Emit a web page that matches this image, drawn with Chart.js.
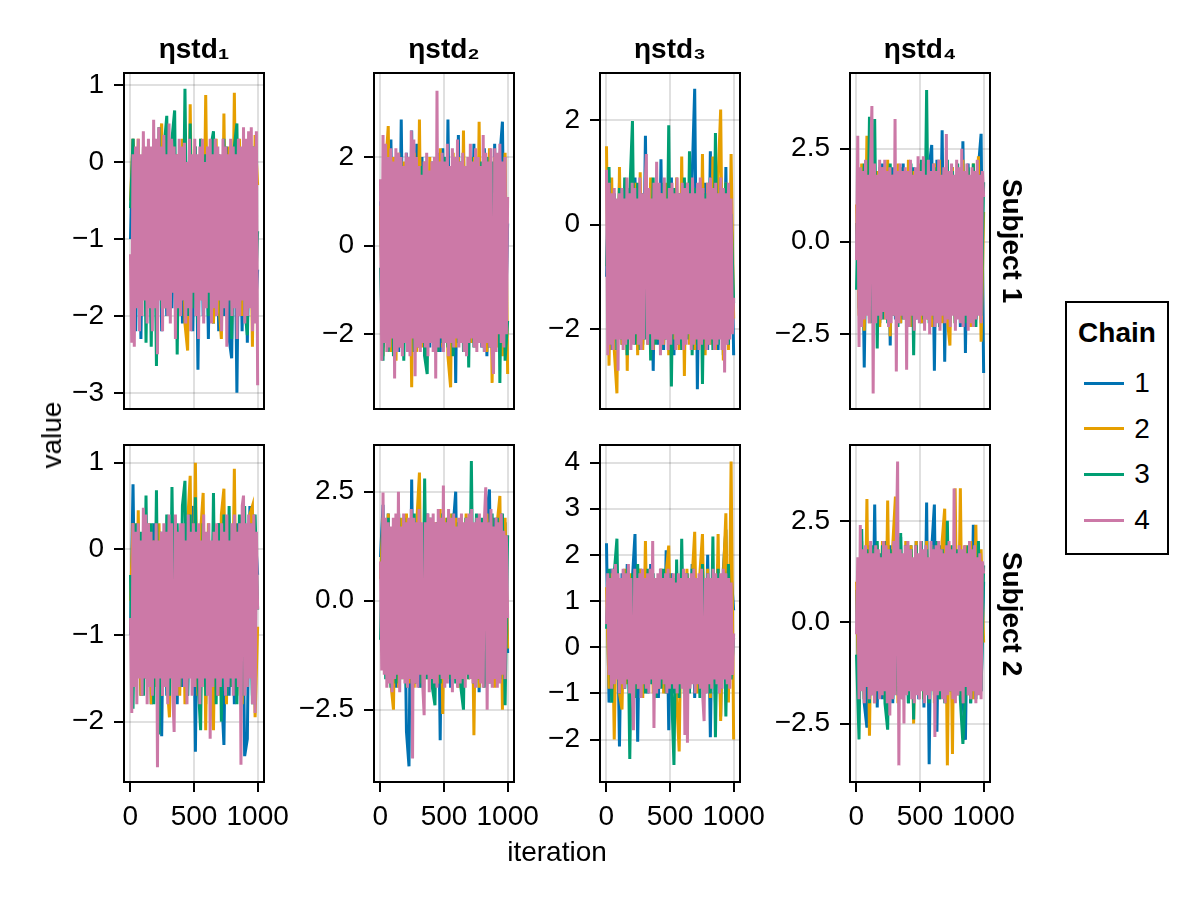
<!DOCTYPE html>
<html>
<head>
<meta charset="utf-8">
<script src="https://cdn.jsdelivr.net/npm/chart.js@4.4.1/dist/chart.umd.min.js"></script>
<style>
  body { margin: 0; width: 1200px; height: 900px; background: #fff; position: relative; overflow: hidden;
         font-family: "Liberation Sans", Arial, Helvetica, sans-serif; color: #000; }
  canvas { position: absolute; }
  .txt { position: absolute; white-space: nowrap; font-size: 28px; line-height: 28px; transform: translate(-50%, -50%); }
  .bold { font-weight: bold; }
  #legend { position: absolute; left: 1065px; top: 301px; width: 104px; height: 254px; box-sizing: border-box; border: 2px solid #000; }
</style>
</head>
<body>
<div id="legend"></div>
<script>
// iterations sampled along chains 1-3
const iterations = [1, 21, 42, 62, 83, 103, 123, 144, 164, 184,
  205, 225, 246, 266, 286, 307, 327, 348, 368, 388,
  409, 429, 450, 470, 490, 511, 531, 552, 572, 592,
  613, 633, 653, 674, 694, 715, 735, 755, 776, 796,
  817, 837, 857, 878, 898, 919, 939, 959, 980, 1000];
// chain 4 is drawn on top of everything, so it is sampled more finely
const iterationsFine = [1, 11, 21, 31, 41, 51, 62, 72, 82, 92,
  102, 112, 122, 132, 142, 152, 162, 173, 183, 193,
  203, 213, 223, 233, 243, 253, 263, 273, 284, 294,
  304, 314, 324, 334, 344, 354, 364, 374, 384, 395,
  405, 415, 425, 435, 445, 455, 465, 475, 485, 495,
  506, 516, 526, 536, 546, 556, 566, 576, 586, 596,
  606, 617, 627, 637, 647, 657, 667, 677, 687, 697,
  707, 717, 728, 738, 748, 758, 768, 778, 788, 798,
  808, 818, 828, 839, 849, 859, 869, 879, 889, 899,
  909, 919, 929, 939, 950, 960, 970, 980, 990, 1000];

const chainLabels = ['1', '2', '3', '4'];
const chainColors = ['#0072B2', '#E69F00', '#009E73', '#CC79A7'];
const chainIters = [iterations, iterations, iterations, iterationsFine];
const paramTitles = ['ηstd₁', 'ηstd₂', 'ηstd₃', 'ηstd₄'];
const subjects = ['Subject 1', 'Subject 2'];
const xTicks = [0, 500, 1000];

// y tick values per panel
const ticksS1E1 = [-3, -2, -1, 0, 1];
const ticksS1E2 = [-2, 0, 2];
const ticksS1E3 = [-2, 0, 2];
const ticksS1E4 = [-2.5, 0, 2.5];
const ticksS2E1 = [-2, -1, 0, 1];
const ticksS2E2 = [-2.5, 0, 2.5];
const ticksS2E3 = [-2, -1, 0, 1, 2, 3, 4];
const ticksS2E4 = [-2.5, 0, 2.5];

// Subject 1, ηstd1
const s1e1c1 = [-1.0, 0.3, -2.2, -0.1, -2.3, 0.0, -2.0, -0.2, -2.1, 0.1,
  -1.9, -0.1, -2.2, 0.0, -2.0, 0.2, -1.9, -0.1, -2.3, 0.0,
  -2.1, 0.1, -1.9, -0.2, -2.2, 0.0, -2.7, 0.2, -2.0, -0.1,
  -2.3, 0.0, -2.1, 0.1, -2.2, -0.1, -2.0, 0.2, -2.3, -2.55,
  0.1, -3.0, 0.0, -2.2, 0.1, -2.35, -0.1, 0.15, -2.0, -1.4];
const s1e1c2 = [-0.5, 0.3, -1.8, 0.3, -2.0, 0.2, -1.7, 0.1, -1.9, 0.3,
  -1.8, 0.1, 0.5, -1.9, 0.2, -2.0, 0.3, -1.7, 0.1, -1.9,
  0.3, -2.1, -2.45, 0.75, -1.8, 0.2, -2.0, 0.3, -1.8, 0.87,
  -1.9, 0.2, -2.1, 0.3, -1.8, -2.3, 0.63, -1.9, 0.2, -2.1,
  0.9, -1.8, 0.3, -2.0, 0.1, -1.9, 0.2, -2.4, 0.35, -0.3];
const s1e1c3 = [-0.6, 0.3, -1.9, 0.1, -2.0, 0.2, -2.35, 0.0, -2.4, 0.3,
  -2.65, 0.45, -1.9, 0.2, 0.6, -2.0, 0.3, 0.67, -2.5, 0.1,
  -1.8, 0.95, -2.0, 0.5, -1.9, 0.2, -2.1, 0.3, -1.7, 0.1,
  -2.0, 0.2, 0.4, -1.9, 0.1, -2.1, 0.3, -1.8, 0.0, -2.3,
  0.2, 0.5, -2.0, 0.1, -1.9, -2.25, 0.0, 0.2, -1.8, -0.9];
const s1e1c4 = [-1.2, -2.35, 0.1, -2.4, 0.2, -1.9, 0.3, -2.2, 0.1, -2.0,
  0.4, -1.8, 0.2, -2.1, 0.3, -1.9, 0.2, -2.2, 0.55, -1.9,
  0.3, -2.5, 0.45, -1.8, 0.2, -2.2, 0.35, -1.9, 0.1, -2.0,
  0.5, -2.1, 0.3, -1.7, 0.2, -2.3, 0.1, -1.9, 0.3, -2.0,
  0.2, -1.8, 0.25, -2.1, 0.0, -1.9, 0.3, -2.2, 0.1, -1.7,
  0.3, -2.0, 0.1, -2.3, 0.2, -1.8, 0.3, -2.1, 0.0, -1.9,
  0.2, -1.7, 0.3, -2.1, 0.1, -1.9, 0.3, -2.0, 0.2, -1.8,
  0.1, -2.2, 0.3, -1.9, 0.2, -2.4, 0.1, -1.8, 0.3, -2.0,
  0.2, -1.9, 0.1, -2.3, 0.3, -2.0, 0.2, -1.8, 0.45, -2.1,
  0.3, -2.0, 0.4, -1.9, 0.45, -2.2, 0.2, -2.1, 0.4, -2.9];

// Subject 1, ηstd2
const s1e2c1 = [1.0, -2.3, 2.2, -2.1, 2.4, -2.2, 2.0, -2.4, 2.85, -2.0,
  2.1, -2.3, 2.6, -2.2, 2.3, -2.1, 2.0, -2.5, 1.6, -2.3,
  1.9, -2.2, 2.1, -2.4, 2.2, -2.0, 2.85, -2.3, 2.0, -3.1,
  2.5, -2.2, 2.1, -2.4, 1.9, -2.1, 2.3, -2.2, 2.0, -2.3,
  2.2, -2.5, 1.9, -2.1, 2.3, -2.2, 2.0, 2.8, -2.1, 0.5];
const s1e2c2 = [0.9, -2.5, 1.8, 2.7, -2.4, 2.0, -2.6, 2.1, -2.3, 1.9,
  -2.2, 1.7, -3.2, 2.1, -2.4, 2.85, -2.3, 1.9, -2.5, 2.0,
  -2.1, 1.8, -2.4, 2.2, -2.3, 1.9, -2.5, -3.2, 2.1, -2.3,
  2.0, -2.1, 2.6, -2.4, 1.8, -2.2, 2.0, -2.3, 2.8, -2.1,
  1.9, -2.4, 2.2, -3.1, 2.0, -2.3, 1.8, -2.5, 2.1, -2.9];
const s1e2c3 = [-0.5, -2.6, 1.5, -2.4, 1.8, -2.5, 1.7, -2.3, 1.9, -2.6,
  1.6, -2.2, 1.9, -2.4, 1.7, -2.3, 1.8, -2.5, -2.9, 1.6,
  -2.1, 1.9, -2.4, 1.7, -2.2, 2.0, -2.3, 1.8, -2.5, 1.6,
  -2.2, 1.9, -2.4, 1.7, -2.75, 2.0, -2.3, 1.8, -2.2, 1.9,
  -2.4, 2.0, -2.3, 1.9, -2.2, 2.0, -3.1, 1.7, -2.6, -1.7];
const s1e2c4 = [1.5, -2.6, 2.5, -2.2, 2.3, -2.4, 2.0, -2.3, 2.2, -2.1,
  1.9, -3.0, 2.2, -2.4, 2.1, -2.3, 2.0, -2.5, 1.8, -2.2,
  2.1, -2.4, 2.0, -2.5, 2.6, -2.1, 2.4, -2.95, 2.0, -2.3,
  1.8, -2.4, 1.6, -2.2, 1.9, -2.3, 2.1, -2.5, 1.7, -2.2,
  1.9, -2.4, 2.0, -3.0, 3.5, -2.3, 1.9, -2.1, 2.1, -2.4,
  1.9, -2.2, 2.3, -2.5, 1.8, -2.2, 2.2, -2.3, 2.0, -2.1,
  2.4, -2.3, 1.9, -2.2, 2.1, -2.4, 1.8, -2.5, 2.0, -2.2,
  2.3, -2.1, 1.9, -2.3, 2.2, -2.4, 2.0, -2.2, 1.8, -2.3,
  2.5, -2.4, 2.1, -2.2, 1.9, -2.3, 2.2, -2.4, -2.9, 2.2,
  -2.4, 2.1, -2.0, 2.3, -2.2, 1.9, -2.3, 2.0, -2.0, 1.1];

// Subject 1, ηstd3
const s1e3c1 = [-1.0, 0.9, -2.4, 0.6, -2.2, 0.8, -2.3, 0.5, -2.5, 0.7,
  -2.2, 0.9, -2.4, 0.6, -2.3, 1.7, -2.2, 0.8, -2.8, 0.6,
  -2.3, 1.25, -2.4, 0.7, -2.2, 0.9, -2.5, 0.6, -2.3, 0.8,
  -2.4, 0.7, -2.2, 0.9, 2.6, -3.15, 0.6, -2.3, 0.8, -2.4,
  1.4, -2.2, 0.7, -2.4, 0.9, -2.5, 1.1, -2.3, 0.6, -2.5];
const s1e3c2 = [1.5, -2.7, 0.9, -2.4, -3.23, 1.1, -2.3, 0.7, -2.8, 0.5,
  -2.2, 0.8, -2.5, 1.0, -2.4, 0.6, -2.3, 0.9, -2.4, 0.7,
  -2.2, 0.6, -2.3, 0.8, -2.5, 0.7, -2.2, 0.9, -2.4, 1.3,
  -2.9, 0.8, -2.3, 0.7, -2.4, 0.6, -2.2, 1.35, -2.5, 0.8,
  -2.3, 1.3, -2.4, 0.9, 2.2, -2.6, 0.8, -2.4, 1.35, -1.8];
const s1e3c3 = [-0.8, 1.1, -2.3, 0.5, -2.4, 0.7, -2.2, 0.9, -2.5, 0.6,
  1.98, -2.3, 0.8, -2.4, 0.6, -2.2, 0.7, -2.6, 0.9, -2.3,
  0.5, -2.4, 0.8, -2.2, 1.9, -3.1, 0.7, -2.3, 0.6, -2.4,
  0.9, -2.2, 1.4, -2.5, 0.7, -2.3, 0.8, -3.05, 0.6, -2.2,
  0.9, -2.4, 1.75, -2.3, 0.7, -2.1, 0.8, -2.3, 0.2, -1.5];
const s1e3c4 = [1.05, -2.5, 0.8, -2.3, 0.6, -2.4, 0.7, -2.2, 0.5, -2.8,
  0.6, -2.2, 0.7, -2.4, 0.5, -2.3, 0.9, -2.2, 0.6, -2.4,
  0.8, -2.3, 0.7, -2.1, 0.5, -2.3, 0.9, -2.4, 0.6, -2.2,
  0.7, 1.35, -2.3, 0.7, -2.1, 0.5, -2.4, 0.8, -2.2, 1.2,
  -2.2, 0.8, -2.5, 0.6, -2.3, 0.9, -2.2, 0.5, -2.4, 0.7,
  -2.3, 0.8, -2.1, 0.6, -2.4, 0.9, -2.3, 0.6, -2.2, 0.8,
  -2.4, 0.7, -2.3, 0.8, -2.1, 0.6, -2.4, 0.9, -2.3, 0.6,
  -2.2, 0.8, -2.4, 0.9, -2.3, 0.7, -2.2, 0.5, -2.4, 0.8,
  -2.3, 0.9, -2.2, 0.7, -2.4, 0.8, -2.3, 0.6, -2.2, 0.9,
  -2.4, 0.7, -2.83, 0.6, -2.3, 0.8, -2.2, 0.5, -2.1, -1.4];

// Subject 1, ηstd4
const s1e4c1 = [0.5, -1.8, 2.0, -3.39, 1.8, -2.1, 2.2, -1.9, 1.9, -2.2,
  2.1, -2.0, 1.8, -2.8, 2.0, -2.1, 1.9, -2.2, 2.1, -1.9,
  1.8, -2.3, 2.0, -2.1, 1.9, -2.2, 2.1, -1.8, 2.0, 2.6,
  -3.48, 2.2, -2.1, 3.0, -3.24, 1.9, -2.2, 2.0, -2.0, 1.8,
  -2.3, 2.7, -3.0, 2.1, -2.2, 1.9, -2.1, 2.0, 2.9, -3.54];
const s1e4c2 = [1.0, -2.0, 2.1, -2.4, 2.85, -2.2, 2.4, -2.0, 1.9, -2.3,
  2.0, -2.1, 2.2, -2.55, 1.8, -2.0, 2.1, -2.2, 1.9, -2.1,
  2.2, -2.3, 1.9, -2.0, 2.1, -2.2, 2.0, -2.1, 1.9, -2.3,
  2.1, -2.0, 2.2, -2.2, 1.8, -2.1, -2.8, 2.0, -2.2, 1.9,
  -2.0, 2.2, -2.1, 1.9, -2.3, 2.1, -2.0, 2.3, -2.7, 0.8];
const s1e4c3 = [-1.3, 1.8, -2.0, 2.1, -1.9, 3.36, -2.2, 3.3, -2.88, 2.0,
  -2.1, 1.9, -2.2, 2.1, -2.0, 1.8, -2.3, 2.0, -2.1, 1.9,
  -2.2, 2.1, -3.06, 1.8, -2.0, 2.2, -2.1, 4.08, -2.2, 1.9,
  -2.1, 2.0, -2.3, 1.8, -2.0, 2.2, -2.1, 1.9, -2.2, 2.1,
  -2.0, 1.9, -2.2, 2.0, -2.1, 2.1, -2.3, 1.8, -2.0, 1.6];
const s1e4c4 = [-0.5, 2.85, -2.84, 2.0, -2.3, 1.9, -2.1, 2.2, -2.0, 1.8,
  -2.2, 2.1, 3.65, -4.09, 2.1, -2.2, 1.8, -2.0, 2.2, -2.1,
  2.0, -1.9, 2.2, -2.1, 1.9, -2.3, 2.0, -2.2, 1.8, -2.0,
  3.3, -3.5, 1.9, -2.2, 2.1, -2.0, 1.9, -2.1, 2.0, -3.45,
  1.9, -2.3, 2.2, -2.0, 1.8, -2.4, 2.0, -2.1, 2.3, -2.2,
  1.9, -2.0, 2.3, -2.4, 1.8, -2.1, 2.2, -2.5, 1.9, -2.0,
  2.1, -2.3, 1.9, -2.2, 2.2, -2.4, 1.8, -2.0, 2.0, -2.2,
  2.9, -2.1, 1.9, -2.3, 2.1, -2.0, 1.8, -2.4, 2.2, -2.1,
  2.0, -2.2, 2.5, -2.3, 1.9, -2.0, 2.1, -2.4, 1.8, -2.2,
  2.0, -2.3, 1.9, -2.1, 2.2, -2.0, 1.8, -2.2, 1.9, 1.2];

// Subject 2, ηstd1
const s2e1c1 = [-1.0, 0.75, -1.6, 0.3, -1.7, 0.2, -1.5, 0.1, -1.8, 0.3,
  -1.6, 0.2, -2.17, 0.1, -1.7, 0.3, -1.5, 0.2, -1.8, 0.0,
  -1.6, 0.3, -1.7, 0.1, 0.5, -2.35, 0.2, -1.6, 0.3, -1.8,
  0.1, -1.7, 0.2, -1.5, 0.3, -1.6, -2.27, 0.2, -1.7, 0.1,
  -1.8, 0.3, -1.6, 0.2, -2.4, -2.2, 0.5, -1.7, 0.2, -0.3];
const s2e1c2 = [-0.6, 0.3, -1.6, 0.45, -1.7, 0.2, -1.5, 0.3, -1.8, 0.1,
  -1.6, 0.3, -1.7, 0.2, -1.5, -1.95, 0.3, -1.6, 0.2, -1.7,
  0.1, -1.8, 0.3, 0.85, -1.6, 1.0, -1.7, 0.2, 0.65, -2.1,
  0.3, -1.6, -2.1, 0.2, -1.7, 0.4, 0.7, -1.8, 0.2, -1.6,
  0.93, -1.7, 0.3, -1.8, 0.2, -1.6, 0.4, 0.5, -1.95, -0.9];
const s2e1c3 = [-0.3, -1.85, 0.3, -1.3, 0.2, -1.7, 0.62, -1.6, 0.3, -1.8,
  0.68, -2.15, 0.2, -1.6, 0.4, -1.7, 0.72, -1.5, 0.3, -1.6,
  0.5, 0.79, -1.7, 0.4, -1.6, 0.6, -1.5, -2.1, 0.3, -1.7,
  0.2, -1.6, 0.65, -1.8, 0.3, -2.0, 0.4, -1.7, 0.5, -1.6,
  0.3, -1.8, 0.4, -1.7, 0.5, -1.6, 0.3, -1.8, 0.4, -0.7];
const s2e1c4 = [-0.8, -1.9, 0.3, -1.6, 0.2, -1.8, 0.3, -1.5, 0.1, -1.7,
  0.48, -1.5, 0.4, -1.8, 0.3, -1.6, 0.2, -1.7, 0.1, -1.5,
  0.3, -2.53, 0.1, -1.5, 0.2, -1.7, 0.3, -1.6, 0.2, -1.8,
  0.4, -1.5, 0.3, -1.7, -2.12, 0.4, -1.7, 0.2, -1.6, 0.3,
  -1.5, 0.3, -1.6, 0.1, -1.8, 0.4, -1.5, 0.2, -1.7, 0.3,
  -1.6, 0.2, -1.5, 0.3, -1.8, 0.1, -1.6, 0.4, -1.5, 0.2,
  -1.7, 0.3, -2.2, 0.1, -1.6, 0.2, -1.5, 0.3, -1.7, 0.1,
  -1.6, 0.3, -1.5, 0.2, -1.7, 0.4, -1.6, 0.1, -1.5, 0.3,
  -1.7, 0.4, -1.5, 0.2, -1.6, 0.3, -2.5, 0.5, 0.62, -1.7,
  0.3, -1.6, 0.4, -1.5, 0.3, -1.8, 0.4, -1.9, 0.2, -0.7];

// Subject 2, ηstd2
const s2e2c1 = [1.0, 2.2, -1.6, 2.0, -1.8, 1.7, -2.0, 1.9, -1.7, 1.8,
  -3.0, -3.8, 2.78, -1.9, 1.8, -2.0, 1.7, -1.8, 2.0, -1.7,
  1.9, -1.9, 1.8, -3.2, 2.0, -1.8, 1.9, -2.0, 1.7, 2.5,
  -1.9, 1.8, -2.0, 1.9, -1.7, 2.0, -1.8, 1.9, -2.1, 1.8,
  -1.9, 2.0, 2.55, -1.7, 1.9, -1.8, 2.0, -1.9, 1.8, -1.2];
const s2e2c2 = [0.5, 1.9, -1.7, 2.0, -1.9, -2.5, 1.8, -2.0, 1.9, -1.8,
  2.0, -1.9, 1.7, -2.0, 1.8, 2.94, -1.9, 2.0, -1.8, 1.9,
  -2.0, 1.8, -1.9, 2.1, -2.6, 1.9, -1.8, 2.0, -1.7, 1.9,
  -2.0, 1.8, -1.9, 2.0, -1.8, 1.9, -3.09, 1.7, -2.0, 1.8,
  -1.9, 2.0, -1.8, 1.9, -2.0, 1.8, 2.4, -2.5, 1.9, -1.1];
const s2e2c3 = [-0.9, 1.8, -1.8, 1.9, -2.0, 1.7, -1.9, 2.0, -1.8, 1.9,
  -2.0, 1.8, -1.7, 2.0, -1.9, 1.8, -2.0, 2.8, -1.8, 1.9,
  -2.0, -2.4, 1.8, -1.9, 2.0, -1.7, 1.9, -1.8, 2.0, -1.9,
  1.8, -2.0, -2.5, 1.9, -1.8, 3.2, -1.9, 2.0, -1.8, 1.9,
  -2.0, 1.8, -1.9, 2.0, -1.7, 1.9, -1.8, 2.0, -2.4, 1.5];
const s2e2c4 = [0.9, -1.6, 2.48, -1.7, 1.9, -2.0, 1.8, -1.9, 1.7, -2.1,
  1.9, -1.8, 2.0, -1.7, 2.5, -2.1, 1.7, -1.8, 2.0, -1.9,
  1.8, -2.0, 1.9, -1.8, 2.1, -3.62, 1.9, -1.9, 1.8, -2.0,
  2.1, -1.7, 1.8, -2.0, -2.63, 1.8, -1.7, 2.0, -2.1, 1.9,
  -1.8, 2.0, -1.9, 1.8, -2.0, 2.1, -1.7, 1.9, -1.8, 2.64,
  -2.0, 1.8, -1.9, 2.1, -1.7, 1.9, -2.1, 2.0, -1.8, 1.7,
  -2.0, 1.9, -1.9, 2.0, -1.8, 1.8, -2.0, 1.9, -1.7, 2.0,
  -1.8, 2.1, -1.9, 1.8, -2.0, 1.9, -1.8, 2.0, -1.9, 1.8,
  -2.0, 1.9, 2.6, -2.5, 1.8, -1.9, 2.1, -2.0, 1.7, -1.8,
  1.9, -2.0, 1.8, -1.9, 2.0, -1.7, 1.6, -1.8, 1.5, -0.4];

// Subject 2, ηstd3
const s2e3c1 = [2.25, -1.2, 1.7, -1.0, 1.5, -2.15, 1.6, -0.9, 1.8, -1.1,
  1.5, 2.45, -2.05, 1.7, -0.9, 1.6, -1.0, 1.8, -0.8, 1.5,
  -1.1, 1.7, -0.9, 2.1, -1.8, 1.6, -1.0, 1.5, -0.9, 1.7,
  -1.0, 1.6, -0.8, 1.8, -1.1, 1.5, -0.9, 1.7, -1.0, 2.0,
  -1.95, 1.6, -1.2, 1.8, -1.5, 1.7, 2.55, -1.0, 1.6, 0.8];
const s2e3c2 = [1.3, -0.9, 1.6, -2.0, 1.5, -1.0, -1.35, 1.7, -0.8, 1.6,
  -1.0, 1.5, -0.9, 1.7, -1.1, 2.3, -0.8, 1.6, -1.0, 1.5,
  -0.9, 1.7, -1.0, 1.6, 2.2, -0.8, 1.5, -1.1, -2.26, 1.6,
  -1.0, 1.7, -0.9, 1.5, 2.5, -1.0, 1.6, 2.45, -0.9, 1.7,
  -1.1, 1.6, -1.0, 2.45, -1.6, 1.5, 2.9, -1.2, 4.02, -2.0];
const s2e3c3 = [0.4, 1.7, -1.2, 1.6, 2.35, -1.0, 1.5, -0.9, 1.7, -2.42,
  1.6, -1.1, 1.8, -0.9, 1.5, -1.0, 1.7, -0.8, 1.6, -1.1,
  1.5, -0.9, 1.7, -1.0, 1.6, -0.8, -2.55, 1.9, -1.1, 2.35,
  -0.9, 1.6, -1.0, 1.7, -0.8, 1.5, -1.1, 1.8, -0.9, 1.6,
  -1.0, 2.4, -1.95, 1.7, -0.9, 1.6, -1.5, 1.8, -0.7, 0.2];
const s2e3c4 = [0.5, 1.6, -0.6, 1.5, -0.9, 1.7, -0.8, 1.8, -0.7, 1.6,
  -1.0, 1.5, -0.8, 1.7, -0.9, 1.6, -0.7, 1.8, -1.0, 1.5,
  -0.8, -1.8, 1.7, -0.8, 1.5, -0.9, 1.6, -1.1, 1.7, -0.8,
  1.5, -0.9, 1.6, -1.0, 1.7, -0.7, 2.3, -1.75, 1.5, -1.0,
  1.6, -0.9, 1.7, -0.7, 1.5, -0.8, 1.6, -1.0, 1.7, -0.9,
  1.5, -0.8, 1.6, -0.9, 1.4, -1.0, 1.6, -0.8, 1.5, -0.9,
  1.7, -1.9, 1.6, -2.07, 1.5, -0.9, 1.6, -0.8, 1.7, -1.0,
  1.5, -0.8, 1.6, -0.9, 1.7, -1.1, -1.6, 1.5, -1.0, 1.6,
  -0.8, 1.5, -0.9, 1.7, -0.7, 1.6, -0.8, 1.5, -1.0, 1.6,
  -0.9, 1.7, -0.7, 1.6, -0.8, 1.5, -0.9, 1.4, -0.6, 0.3];

// Subject 2, ηstd4
const s2e4c1 = [0.8, -1.9, 1.8, -2.0, -2.6, 1.9, -1.8, 2.9, -2.1, 1.7,
  -1.9, 2.0, -1.8, 1.9, -2.0, 1.8, -1.7, 2.1, -1.9, 1.8,
  -2.0, 1.9, -1.8, 2.0, -1.9, 1.7, -2.1, 2.95, -3.5, 1.8,
  2.9, -2.7, 1.9, -1.8, 2.0, -1.9, 1.8, -2.0, 1.9, -1.8,
  2.0, -1.9, -2.9, 1.8, -2.0, 2.4, -1.8, 1.9, -1.7, 1.0];
const s2e4c2 = [1.0, -1.8, 2.0, -1.9, 3.04, -2.8, 1.8, -2.0, 1.9, -1.7,
  2.0, -1.9, 3.0, -1.8, 1.9, 3.1, -2.0, 1.8, -1.9, 2.0,
  -1.8, 1.9, -2.5, 2.0, -1.7, 1.8, -1.9, 2.0, -1.8, 1.9,
  -2.0, 1.8, -1.9, 2.0, 2.8, -3.53, 1.9, -3.25, 3.3, -1.8,
  3.3, -2.0, 1.9, -1.8, 2.0, -1.9, 2.4, -1.7, 1.8, -0.5];
const s2e4c3 = [-0.8, -2.89, 2.3, -1.9, 1.8, -2.0, 1.9, -1.7, 2.0, -1.8,
  1.9, -2.0, -2.65, 1.8, -1.9, 2.0, -1.8, 2.2, -1.7, 1.9,
  -2.0, 1.8, -2.4, 1.9, -1.8, 2.0, -1.9, 1.8, -2.0, 1.9,
  -1.8, 2.0, -1.9, 1.8, -2.0, 2.5, -1.7, 1.9, -1.8, 1.8,
  -1.9, -3.0, -1.8, 1.9, -2.0, 1.8, -1.9, 2.0, -1.7, 1.4];
const s2e4c4 = [-0.3, 1.6, -1.9, 2.4, -1.7, 1.8, -2.0, 1.9, -1.6, 1.7,
  -1.9, 2.0, -1.8, 1.7, -2.0, 1.9, -1.7, 1.8, -1.9, 1.6,
  -1.8, 2.0, -1.7, 1.9, -2.0, 1.8, -2.3, 1.7, -1.9, 2.0,
  -1.8, 1.9, 3.96, -3.53, 1.8, -1.9, 1.7, -2.5, 1.9, -1.8,
  2.0, -1.7, 1.8, -1.9, 1.6, -2.0, 1.9, -1.8, 1.7, -1.9,
  2.0, -1.7, 1.8, -2.0, 1.9, -1.8, 1.6, -1.9, 2.0, -1.7,
  1.8, -2.83, 1.9, -1.8, 2.0, -1.7, 1.8, -1.9, 1.7, -2.0,
  1.9, -1.8, 2.0, -1.7, 1.8, -1.9, 3.3, -2.0, 1.7, -1.8,
  1.9, -1.7, 1.8, -2.0, 1.9, -1.6, 1.7, -1.8, 2.0, -1.9,
  1.8, -1.7, 1.9, -2.0, 1.6, -1.8, 1.7, -1.9, 1.5, 1.2];

// layout of the 2 x 4 grid (plot areas in page pixels)
const colLeft = [124, 374, 600, 850];
const rowTop = [73, 445];
const rowHeight = [336, 337];
const plotWidth = 140;
const fontFamily = '"Liberation Sans", Arial, Helvetica, sans-serif';

const panels = [
  { row: 0, col: 0, yMin: -3.21, yMax: 1.156, yTicks: ticksS1E1, chains: [s1e1c1, s1e1c2, s1e1c3, s1e1c4] },
  { row: 0, col: 1, yMin: -3.69, yMax: 3.90, yTicks: ticksS1E2, chains: [s1e2c1, s1e2c2, s1e2c3, s1e2c4] },
  { row: 0, col: 2, yMin: -3.53, yMax: 2.90, yTicks: ticksS1E3, chains: [s1e3c1, s1e3c2, s1e3c3, s1e3c4] },
  { row: 0, col: 3, yMin: -4.51, yMax: 4.54, yTicks: ticksS1E4, chains: [s1e4c1, s1e4c2, s1e4c3, s1e4c4] },
  { row: 1, col: 0, yMin: -2.70, yMax: 1.206, yTicks: ticksS2E1, chains: [s2e1c1, s2e1c2, s2e1c3, s2e1c4] },
  { row: 1, col: 1, yMin: -4.16, yMax: 3.57, yTicks: ticksS2E2, chains: [s2e2c1, s2e2c2, s2e2c3, s2e2c4] },
  { row: 1, col: 2, yMin: -2.92, yMax: 4.38, yTicks: ticksS2E3, chains: [s2e3c1, s2e3c2, s2e3c3, s2e3c4] },
  { row: 1, col: 3, yMin: -3.94, yMax: 4.37, yTicks: ticksS2E4, chains: [s2e4c1, s2e4c2, s2e4c3, s2e4c4] }
];

// black frame round every plot area
const framePlugin = {
  id: 'frame',
  afterDraw(chart) {
    const { ctx, chartArea: a } = chart;
    ctx.save();
    ctx.strokeStyle = '#000';
    ctx.lineWidth = 2;
    ctx.strokeRect(a.left, a.top, a.right - a.left, a.bottom - a.top);
    ctx.restore();
  }
};

function fmtTick(v, dec) {
  return v.toFixed(dec).replace('-', '\u2212');
}

function addText(text, x, y, cls, rotate) {
  const d = document.createElement('div');
  d.className = 'txt ' + (cls || '');
  d.textContent = text;
  d.style.left = x + 'px';
  d.style.top = y + 'px';
  if (rotate) d.style.transform = 'translate(-50%, -50%) rotate(' + rotate + 'deg)';
  document.body.appendChild(d);
}

panels.forEach(p => {
  const bottomRow = p.row === 1;
  const L = colLeft[p.col], T = rowTop[p.row], H = rowHeight[p.row];
  const padL = 120, padR = bottomRow ? 40 : 10, padT = 10, padB = bottomRow ? 70 : 10;
  const canvas = document.createElement('canvas');
  canvas.width = plotWidth + padL + padR;
  canvas.height = H + padT + padB;
  canvas.style.left = (L - padL) + 'px';
  canvas.style.top = (T - padT) + 'px';
  document.body.appendChild(canvas);
  const dec = p.yTicks.every(Number.isInteger) ? 0 : 1;

  new Chart(canvas, {
    type: 'line',
    data: {
      datasets: p.chains.map((vals, ci) => ({
        label: chainLabels[ci],
        data: vals.map((v, i) => ({ x: chainIters[ci][i], y: v })),
        borderColor: chainColors[ci],
        borderWidth: 3,
        pointRadius: 0,
        tension: 0,
        order: chainLabels.length - 1 - ci   // chain 4 ends up on top
      }))
    },
    options: {
      responsive: false,
      animation: false,
      events: [],
      layout: { padding: { left: 0, right: padR, top: padT, bottom: 0 } },
      plugins: { legend: { display: false }, tooltip: { enabled: false } },
      scales: {
        x: {
          type: 'linear', min: -49.95, max: 1049.95,
          afterBuildTicks: s => { s.ticks = xTicks.map(v => ({ value: v })); },
          afterFit: s => { s.height = padB; s.paddingLeft = 0; s.paddingRight = 0; },
          border: { display: false },
          grid: { color: 'rgba(0,0,0,0.12)', lineWidth: 2, drawTicks: bottomRow, tickLength: 10, tickColor: '#000', tickWidth: 2 },
          ticks: { display: bottomRow, color: '#000', font: { family: fontFamily, size: 28 }, padding: 8,
                   maxRotation: 0, autoSkip: false, callback: v => String(v) }
        },
        y: {
          type: 'linear', min: p.yMin, max: p.yMax,
          afterBuildTicks: s => { s.ticks = p.yTicks.map(v => ({ value: v })); },
          afterFit: s => { s.width = padL; s.paddingTop = 0; s.paddingBottom = 0; },
          border: { display: false },
          grid: { color: 'rgba(0,0,0,0.12)', lineWidth: 2, tickLength: 10, tickColor: '#000', tickWidth: 2 },
          ticks: { color: '#000', font: { family: fontFamily, size: 28 }, padding: 10,
                   callback: v => fmtTick(v, dec) }
        }
      }
    },
    plugins: [framePlugin]
  });
});

// column titles, row labels and axis labels
paramTitles.forEach((t, c) => addText(t, colLeft[c] + plotWidth / 2, 49, 'bold'));
subjects.forEach((s, r) => addText(s, 1012, rowTop[r] + rowHeight[r] / 2, 'bold', 90));
addText('value', 52, 435, '', -90);
addText('iteration', 557, 852, '');

// legend
const legend = document.getElementById('legend');
const title = document.createElement('div');
title.className = 'txt bold';
title.textContent = 'Chain';
title.style.left = '50px';
title.style.top = '30px';
legend.appendChild(title);
chainLabels.forEach((lab, i) => {
  const y = 80 + i * 45.7;
  const line = document.createElement('div');
  line.style.cssText = 'position:absolute;left:17px;width:40px;height:3px;background:' + chainColors[i] + ';top:' + (y - 1.5) + 'px';
  legend.appendChild(line);
  const t = document.createElement('div');
  t.className = 'txt';
  t.textContent = lab;
  t.style.left = '75px';
  t.style.top = y + 'px';
  legend.appendChild(t);
});
</script>
</body>
</html>
